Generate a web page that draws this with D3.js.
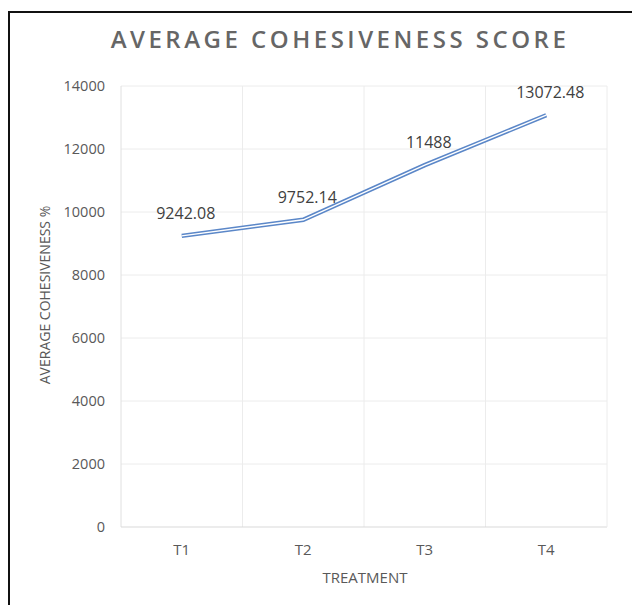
<!DOCTYPE html>
<html><head><meta charset="utf-8">
<script src="https://cdn.jsdelivr.net/npm/d3@7"></script>
<style>body{margin:0;background:#fff;} svg{display:block;font-family:"Open Sans",sans-serif;}</style>
</head><body>
<svg id="c" width="632" height="605"></svg>
<script>
const categories = ["T1","T2","T3","T4"];
const values = [9242.08, 9752.14, 11488, 13072.48];
const valueLabels = ["9242.08","9752.14","11488","13072.48"];
const yTicks = [0,2000,4000,6000,8000,10000,12000,14000];

const svg = d3.select("#c");
const W=632,H=605;
const m={left:121,right:25,top:86,bottom:78};
const x = d3.scaleBand().domain(categories).range([m.left, W-m.right]);
const y = d3.scaleLinear().domain([0,14000]).range([H-m.bottom, m.top]);

// frame
svg.append("path").attr("d",`M9,${H} L9,12 L${W},12`).attr("fill","none").attr("stroke","#111").attr("stroke-width",2);

// horizontal gridlines
svg.append("g").selectAll("line").data(yTicks.slice(1)).join("line")
  .attr("x1",m.left).attr("x2",W-m.right).attr("y1",d=>y(d)).attr("y2",d=>y(d))
  .attr("stroke","#ececec").attr("stroke-width",1);
// vertical gridlines at band boundaries
svg.append("g").selectAll("line").data(categories.slice(1)).join("line")
  .attr("x1",d=>x(d)).attr("x2",d=>x(d)).attr("y1",m.top).attr("y2",H-m.bottom)
  .attr("stroke","#ececec").attr("stroke-width",1);
// left axis line & bottom axis
svg.append("line").attr("x1",m.left).attr("x2",m.left).attr("y1",m.top).attr("y2",H-m.bottom).attr("stroke","#e0e0e0");
svg.append("line").attr("x1",m.left).attr("x2",W-m.right).attr("y1",H-m.bottom).attr("y2",H-m.bottom).attr("stroke","#d9d9d9");
svg.append("line").attr("x1",W-m.right).attr("x2",W-m.right).attr("y1",m.top).attr("y2",H-m.bottom).attr("stroke","#ececec");

// y tick labels
const yAxis = d3.axisLeft(y).tickValues(yTicks).tickSize(0).tickPadding(16).tickFormat(d3.format("d"));
const gy = svg.append("g").attr("transform",`translate(${m.left},0)`).call(yAxis);
gy.select(".domain").remove();
gy.selectAll("text").attr("fill","#595959").attr("font-size",14.5).attr("font-family","Open Sans");

// x tick labels
const xAxis = d3.axisBottom(x).tickSize(0).tickPadding(17);
const gx = svg.append("g").attr("transform",`translate(0,${H-m.bottom})`).call(xAxis);
gx.select(".domain").remove();
gx.selectAll("text").attr("fill","#595959").attr("font-size",15).attr("font-family","Open Sans");

// line (double/compound)
const line = d3.line().x((d,i)=>x(categories[i])+x.bandwidth()/2).y(d=>y(d));
svg.append("path").datum(values).attr("d",line).attr("fill","none").attr("stroke","#5b87c8").attr("stroke-width",4.5);
svg.append("path").datum(values).attr("d",line).attr("fill","none").attr("stroke","#ffffff").attr("stroke-width",1.4);

// data labels
svg.append("g").selectAll("text").data(values).join("text")
  .attr("x",(d,i)=>x(categories[i])+x.bandwidth()/2+4)
  .attr("y",d=>y(d)-17)
  .attr("text-anchor","middle").attr("fill","#404040").attr("font-size",16)
  .text((d,i)=>valueLabels[i]);

// title
svg.append("text").attr("x",340).attr("y",48).attr("text-anchor","middle")
  .attr("fill","#666666").attr("font-size",24).attr("font-weight",600).attr("letter-spacing",3.5)
  .text("AVERAGE COHESIVENESS SCORE");

// axis titles
svg.append("text").attr("transform",`translate(50,295) rotate(-90)`).attr("text-anchor","middle")
  .attr("fill","#595959").attr("font-size",14).text("AVERAGE COHESIVENESS %");
svg.append("text").attr("x",365).attr("y",583).attr("text-anchor","middle")
  .attr("fill","#595959").attr("font-size",15).text("TREATMENT");
</script>
</body></html>
